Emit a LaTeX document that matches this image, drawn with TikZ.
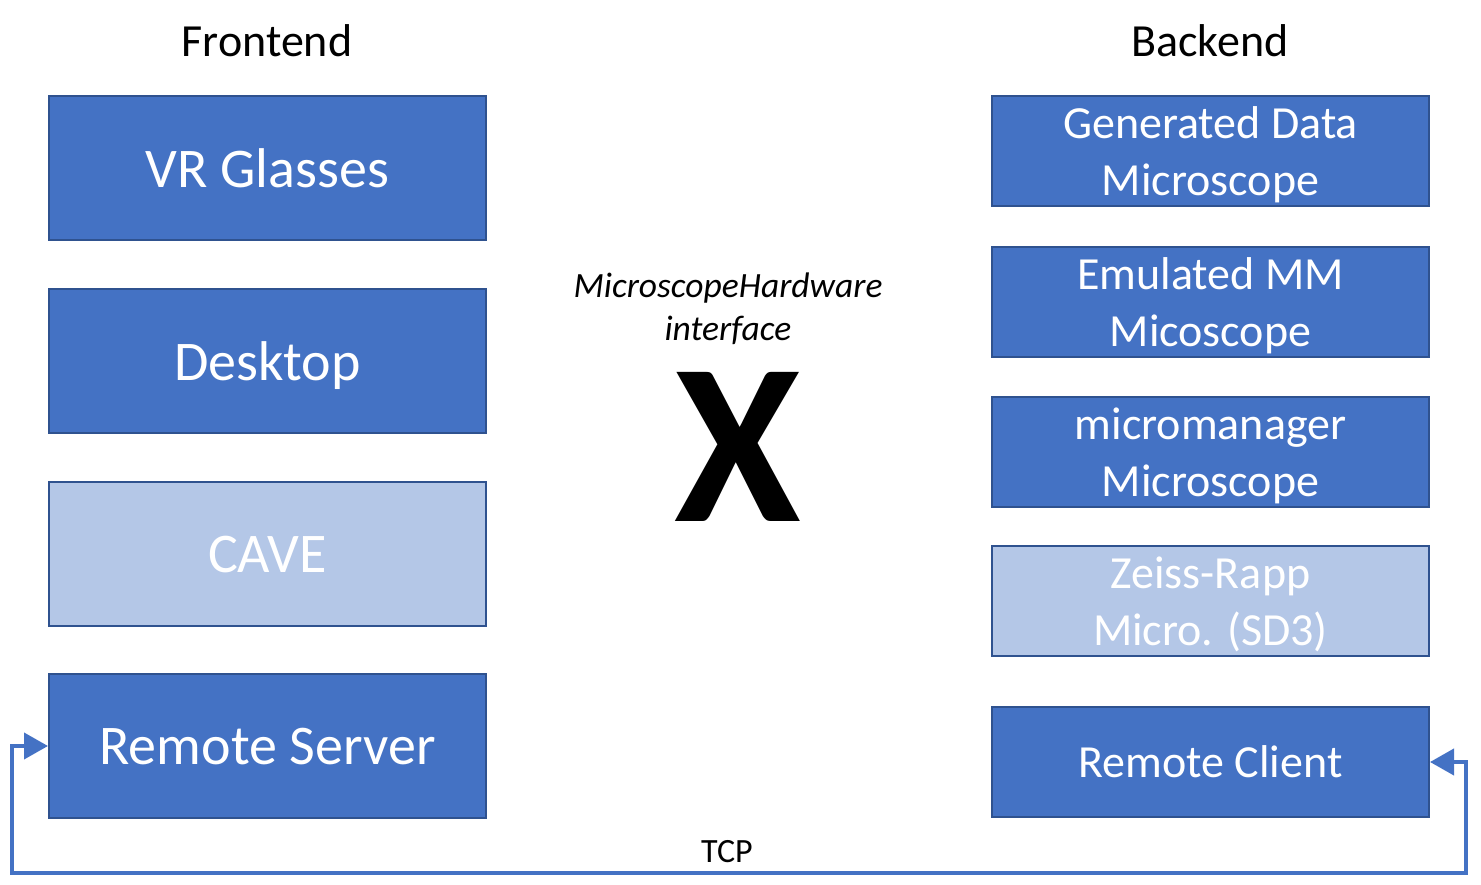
\documentclass[tikz,border=0pt]{standalone}
\usepackage{fontspec}
\setmainfont{Carlito}
\usepackage{tikz}
\usetikzlibrary{positioning,arrows.meta}
\definecolor{boxblue}{HTML}{4472C4}
\definecolor{boxedge}{HTML}{2F528F}
\definecolor{boxlight}{HTML}{B4C7E7}

\begin{document}
\begin{tikzpicture}[x=1pt, y=1pt,
  frontbox/.style={rectangle, draw=boxedge, fill=boxblue, line width=2pt, minimum width=437pt, minimum height=144pt, inner sep=0pt, text depth=0pt, text=white, align=center, font=\fontsize{56}{64}\selectfont},
  backbox/.style={rectangle, draw=boxedge, fill=boxblue, line width=2pt, minimum width=437pt, minimum height=110pt, inner sep=0pt, text depth=0pt, text=white, align=center, font=\fontsize{46}{57}\selectfont},
  inactive/.style={fill=boxlight},
  header/.style={anchor=base, inner sep=0pt, font=\fontsize{46}{55}\selectfont},
  tcpline/.style={draw=boxblue, line width=4pt, {Triangle[length=24pt,width=26pt]}-{Triangle[length=24pt,width=26pt]}}]
%

%help grid and labels
%\draw[help lines, step=50] (0,-885) grid (1481,0);

\useasboundingbox (0,0) rectangle (1481,-885);

%%% FRONTEND
\node [header] (frontend-hd) at (267,-57) {Frontend};
\node [frontbox] (vr-glasses) at (267.5,-168) {VR Glasses};
\node [frontbox, below = 47pt of vr-glasses] (desktop) {Desktop};
\node [frontbox, inactive, below = 47pt of desktop] (cave) {CAVE};
\node [frontbox, below = 46pt of cave] (remote-server) {Remote Server};

%%% INTERFACE
\node [align=center, font=\fontsize{35.5}{43}\selectfont\itshape] (hw-interface) at (728,-309) {MicroscopeHardware\\ interface};
\node [inner sep=0pt, font=\fontsize{230}{240}\selectfont\bfseries] (hw-cross) at (738,-447) {X};

%%% BACKEND
\node [header] (backend-hd) at (1210,-57) {Backend};
\node [backbox] (generated-mic) at (1210.5,-151) {Generated Data\\ Microscope};
\node [backbox, below = 39pt of generated-mic] (emulated-mic) {Emulated MM\\ Micoscope};
\node [backbox, below = 38pt of emulated-mic] (mm-mic) {micromanager\\ Microscope};
\node [backbox, inactive, below = 37pt of mm-mic] (zeiss-mic) {Zeiss-Rapp\\ Micro. (SD3)};
\node [backbox, below = 49pt of zeiss-mic] (remote-client) {Remote Client};

%%% connections, arrows
\coordinate (tcp-corner) at (12,-873);
\draw [tcpline] (remote-client.east) -- ++(36,0) |- (tcp-corner) |- (remote-server.west);
\node [anchor=base, inner sep=0pt, font=\fontsize{34}{40}\selectfont] (tcp-label) at (727,-862) {TCP};

\end{tikzpicture}
\end{document}
